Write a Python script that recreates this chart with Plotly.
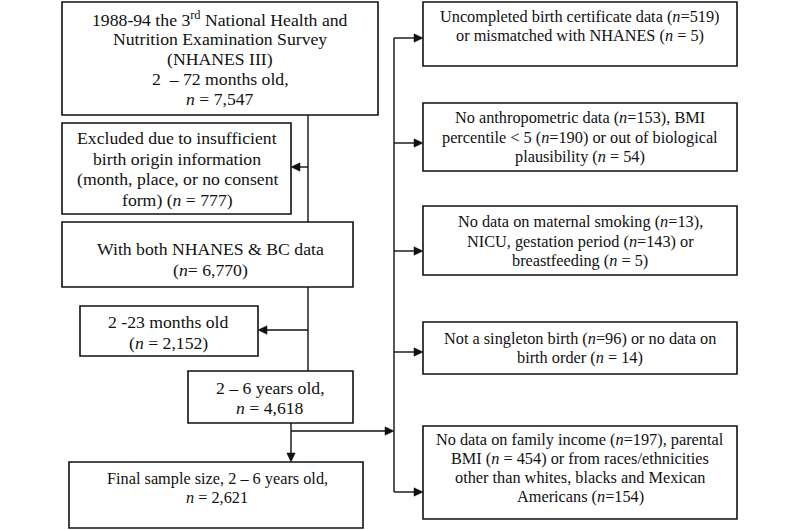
import plotly.graph_objects as go

# ---- content ----
box_labels = [
    "1988-94 the 3<sup>rd</sup> National Health and<br>Nutrition Examination Survey<br>(NHANES III)<br>2  \u2013 72 months old,<br><i>n</i> = 7,547",
    "Excluded due to insufficient<br>birth origin information<br>(month, place, or no consent<br>form) (<i>n</i> = 777)",
    "With both NHANES &amp; BC data<br>(<i>n</i>= 6,770)",
    "2 -23 months old<br>(<i>n</i> = 2,152)",
    "2 \u2013 6 years old,<br><i>n</i> = 4,618",
    "Final sample size, 2 \u2013 6 years old,<br><i>n</i> = 2,621",
    "Uncompleted birth certificate data (<i>n</i>=519)<br>or mismatched with NHANES (<i>n</i> = 5)",
    "No anthropometric data (<i>n</i>=153), BMI<br>percentile &lt; 5 (<i>n</i>=190) or out of biological<br>plausibility (<i>n</i> = 54)",
    "No data on maternal smoking (<i>n</i>=13),<br>NICU, gestation period (<i>n</i>=143) or<br>breastfeeding (<i>n</i> = 5)",
    "Not a singleton birth (<i>n</i>=96) or no data on<br>birth order (<i>n</i> = 14)",
    "No data on family income (<i>n</i>=197), parental<br>BMI (<i>n</i> = 454) or from races/ethnicities<br>other than whites, blacks and Mexican<br>Americans (<i>n</i>=154)",
]

# ---- layout geometry (page pixel space) ----
box_x0 = [62, 62, 62, 80, 188, 69, 423, 423, 423, 423, 423]
box_x1 = [378, 291, 353, 258, 353, 363, 737, 737, 737, 737, 737]
box_y0 = [2, 123, 222, 306, 371, 462, 2, 103, 206, 322, 426]
box_y1 = [115, 214, 287, 356, 423, 528, 66, 171, 275, 374, 519]
text_x = [220, 177, 210, 168, 270, 217, 580, 580, 580, 580, 580]
text_y = [59, 169, 259, 332, 398, 488, 26, 137, 241, 348, 468]
font_sizes = [17.7, 17.7, 17.7, 17.7, 17.7, 16.3, 16.3, 16.3, 16.3, 16.3, 16.3]
line_gaps = [20.2, 20.6, 21.0, 21.0, 20.0, 19.0, 19.2, 19.2, 19.2, 19.2, 19.2]

# plain connector lines: (x0, y0, x1, y1)
lines = [
    (308, 115, 308, 222),
    (308, 287, 308, 371),
    (394, 38, 394, 492),
]
# arrows: (tail_x, tail_y, head_x, head_y)
arrows = [
    (308, 167, 291, 167),
    (308, 330, 258, 330),
    (291, 423, 291, 462),
    (291, 431, 394, 431),
    (394, 38, 423, 38),
    (394, 143, 423, 143),
    (394, 251, 423, 251),
    (394, 352, 423, 352),
    (394, 492, 423, 492),
]

INK = "#111111"

fig = go.Figure()
fig.add_trace(go.Scatter(x=[0, 800], y=[0, 530], mode="markers",
                         marker=dict(opacity=0), hoverinfo="skip", showlegend=False))

shapes = []
for x0, x1, y0, y1 in zip(box_x0, box_x1, box_y0, box_y1):
    shapes.append(dict(type="rect", xref="x", yref="y", x0=x0, x1=x1, y0=y0, y1=y1,
                       line=dict(color=INK, width=1.6), fillcolor="white", layer="below"))
for x0, y0, x1, y1 in lines:
    shapes.append(dict(type="line", xref="x", yref="y", x0=x0, y0=y0, x1=x1, y1=y1,
                       line=dict(color=INK, width=1.4)))
AL, AW = 9, 4.2
for tx, ty, hx, hy in arrows:
    dx, dy = hx - tx, hy - ty
    L = (dx * dx + dy * dy) ** 0.5
    ux, uy = dx / L, dy / L
    bx, by = hx - ux * AL, hy - uy * AL
    px, py = -uy, ux
    shapes.append(dict(type="line", xref="x", yref="y", x0=tx, y0=ty, x1=bx, y1=by,
                       line=dict(color=INK, width=1.4)))
    path = (f"M {hx},{hy} L {bx + px * AW},{by + py * AW} "
            f"L {bx - px * AW},{by - py * AW} Z")
    shapes.append(dict(type="path", xref="x", yref="y", path=path,
                       fillcolor=INK, line=dict(color=INK, width=0.5)))

annotations = []
for lab, tx, ty, fs, gap in zip(box_labels, text_x, text_y, font_sizes, line_gaps):
    parts = lab.split("<br>")
    n = len(parts)
    for i, p in enumerate(parts):
        annotations.append(dict(x=tx, y=ty + (i - (n - 1) / 2) * gap, xref="x", yref="y",
                                text=p, showarrow=False, xanchor="center", yanchor="middle",
                                align="center",
                                font=dict(family="Liberation Serif", size=fs, color=INK)))

fig.update_layout(
    width=800, height=530,
    margin=dict(l=0, r=0, t=0, b=0),
    paper_bgcolor="white", plot_bgcolor="white",
    xaxis=dict(range=[0, 800], visible=False, fixedrange=True),
    yaxis=dict(range=[530, 0], visible=False, fixedrange=True),
    shapes=shapes, annotations=annotations, showlegend=False,
    hovermode=False,
)
fig.write_html("out.html", config={"displayModeBar": False, "staticPlot": True},
               post_script="document.body.style.margin='0';document.body.style.overflow='hidden';")
